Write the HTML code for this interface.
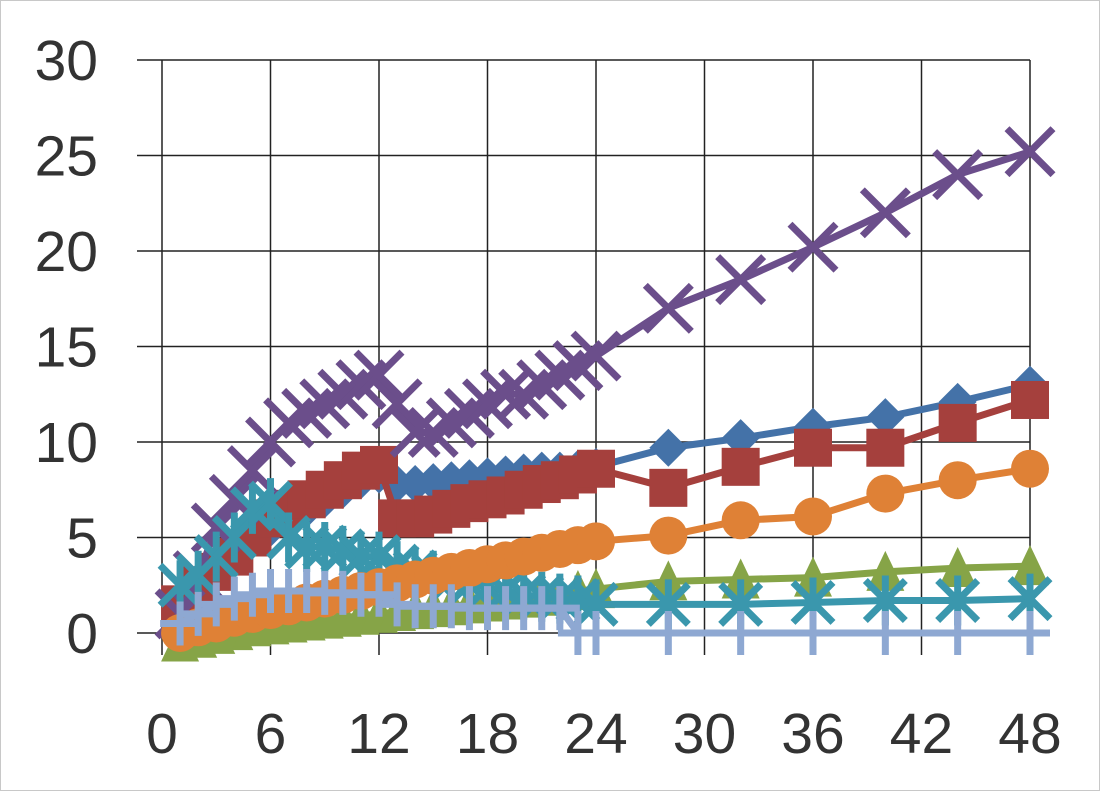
<!DOCTYPE html>
<html><head><meta charset="utf-8"><style>
html,body{margin:0;padding:0;background:#fff}
svg{display:block}
text{font-family:"Liberation Sans",sans-serif;fill:#333;font-size:57px}
</style></head><body>
<svg id="chart" width="1100" height="791">
<rect x="0.5" y="0.5" width="1099" height="790" fill="#fff" stroke="#c8c8c8"/>
<g id="grid"></g>
<g id="axes"></g>
<g id="series"></g>
</svg>
<script>
const xsDense = [1,2,3,4,5,6,7,8,9,10,11,12,13,14,15,16,17,18,19,20,21,22,23,24,28,32,36,40,44,48];
const blueVals = [1,2,3,4,5,5.5,6,6.5,7,7.5,8,8.3,7.8,7.8,7.9,8,8.1,8.2,8.3,8.4,8.5,8.5,8.6,8.7,9.7,10.2,10.8,11.3,12.1,13];
const redVals = [1.5,2.5,3.2,4,5,6,6.5,7,7.5,8,8.5,8.8,6,6,6.2,6.5,6.8,7,7.2,7.5,7.8,8,8.3,8.6,7.6,8.7,9.7,9.7,11,12.2];
const greenVals = [-0.5,-0.3,-0.1,0.1,0.3,0.4,0.5,0.6,0.7,0.8,0.9,1,1.1,1.2,1.3,1.4,1.5,1.6,1.7,1.8,1.9,2,2.2,2.3,2.7,2.8,2.9,3.2,3.4,3.5];
const purpleVals = [1,3,5.5,7,8.5,10,11,11.5,12,12.5,13,13.5,12,10.5,10.5,11,11.5,12,12.5,12.5,13,13.5,14,14.5,17,18.5,20.2,22,24,25.2];
const tealVals = [2.5,3,4,5,6.5,6.8,5,4.5,4.5,4.3,4,4,3.5,3.2,3,2.8,2.6,2.4,2.2,2,1.9,1.8,1.7,1.5,1.5,1.5,1.6,1.7,1.7,1.8];
const orangeVals = [0,0.3,0.5,0.8,1,1.2,1.4,1.6,1.8,2,2.2,2.4,2.6,2.8,3,3.2,3.4,3.6,3.8,4,4.2,4.4,4.6,4.8,5.1,5.9,6.1,7.3,8,8.6];
const lightVals = [0.5,1,1.5,1.8,2,2.2,2.2,2.2,2.1,2.1,2,2,1.5,1.4,1.4,1.4,1.3,1.3,1.3,1.3,1.3,1.3,0,0,0,0,0,0,0,0];
const xTicks = [0,6,12,18,24,30,36,42,48];
const yTicks = [0,5,10,15,20,25,30];

const NS="http://www.w3.org/2000/svg";
const X0=162,X1=1030,Y0=633,Y1=60;
const sx=v=>X0+(X1-X0)*v/48;
const sy=v=>Y0-(Y0-Y1)*v/30;
function mk(t,a,p){const e=document.createElementNS(NS,t);for(const k in a)e.setAttribute(k,a[k]);p.appendChild(e);return e;}
const grid=document.getElementById('grid'),axes=document.getElementById('axes'),ser=document.getElementById('series');
xTicks.forEach(v=>{
  const l=mk('line',{x1:sx(v),x2:sx(v),y1:Y1,y2:Y0+22,stroke:'#222','stroke-width':1.5},grid);
  
  
  const t=mk('text',{x:sx(v),y:753,'text-anchor':'middle'},axes);t.textContent=v;
  
  
});
yTicks.forEach(v=>{
  const l=mk('line',{x1:X0-25,x2:X1,y1:sy(v),y2:sy(v),stroke:'#222','stroke-width':1.5},grid);
  
  
  const t=mk('text',{x:98,y:sy(v)+20,'text-anchor':'end'},axes);t.textContent=v;
  
  
});
function marker(kind,x,y,c,g){
  const s=19;
  if(kind==='diamond')mk('polygon',{points:`${x},${y-s} ${x+s},${y} ${x},${y+s} ${x-s},${y}`,fill:c},g);
  else if(kind==='square')mk('rect',{x:x-s,y:y-s,width:2*s,height:2*s,fill:c},g);
  else if(kind==='triangle')mk('polygon',{points:`${x},${y-s-2} ${x+s},${y+s} ${x-s},${y+s}`,fill:c},g);
  else if(kind==='circle')mk('circle',{cx:x,cy:y,r:s,fill:c},g);
  else if(kind==='x'){mk('path',{d:`M${x-23} ${y-23}L${x+23} ${y+23}M${x+23} ${y-23}L${x-23} ${y+23}`,stroke:c,'stroke-width':7},g);}
  else if(kind==='star'){mk('path',{d:`M${x-20} ${y-20}L${x+20} ${y+20}M${x+20} ${y-20}L${x-20} ${y+20}M${x} ${y-25}L${x} ${y+25}`,stroke:c,'stroke-width':7},g);}
  else if(kind==='plus'){mk('path',{d:`M${x-20} ${y}L${x+20} ${y}M${x} ${y-22}L${x} ${y+22}`,stroke:c,'stroke-width':7},g);}
}
const seriesList=[
 ['blue',blueVals,'#4472a8','diamond'],
 ['red',redVals,'#a5403d','square'],
 ['green',greenVals,'#86a447','triangle'],
 ['purple',purpleVals,'#6b4e8b','x'],
 ['teal',tealVals,'#3a97ad','star'],
 ['orange',orangeVals,'#df8136','circle'],
 ['lightblue',lightVals,'#8ea8d2','plus']
];
seriesList.forEach(([n,vals,c,k])=>{
  const g=mk('g',{},ser);
  
  
  mk('polyline',{points:vals.map((v,i)=>sx(xsDense[i])+','+sy(v)).join(' '),fill:'none',stroke:c,'stroke-width':7,'stroke-linejoin':'round'},g);
  vals.forEach((v,i)=>marker(k,sx(xsDense[i]),sy(v),c,g));
});
</script>
</body></html>
